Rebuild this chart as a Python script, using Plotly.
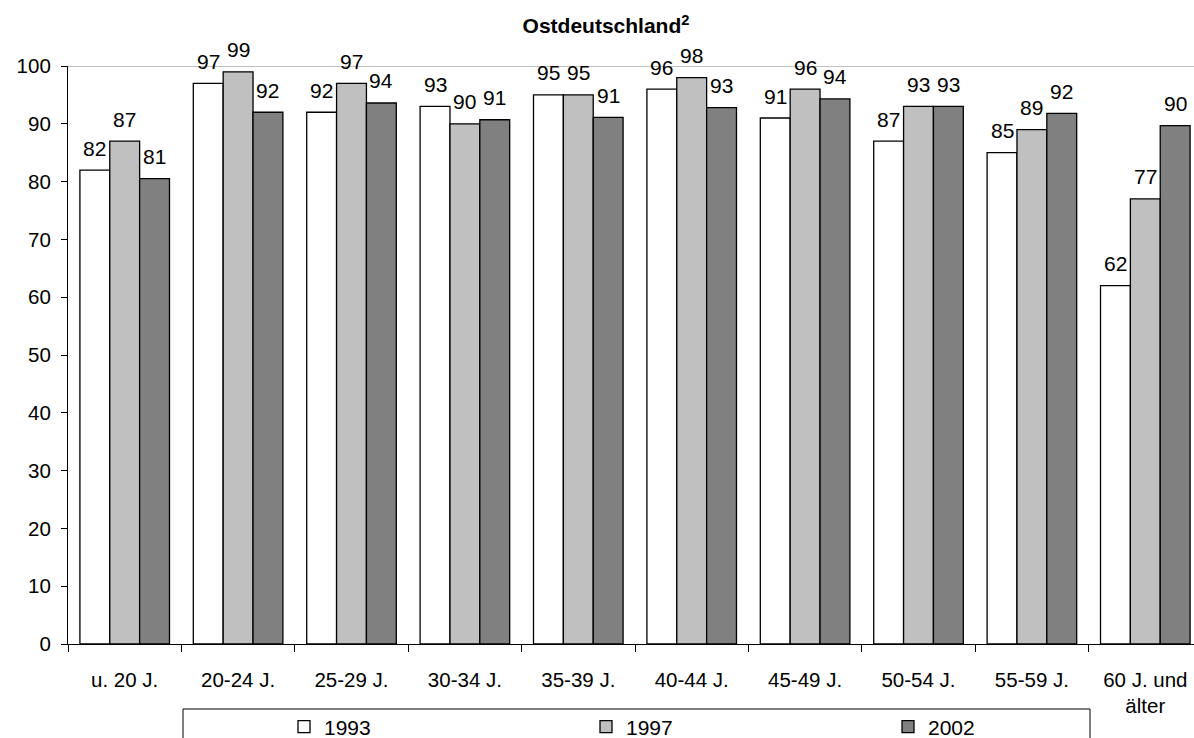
import plotly.graph_objects as go

categories = ["u. 20 J.", "20-24 J.", "25-29 J.", "30-34 J.", "35-39 J.",
              "40-44 J.", "45-49 J.", "50-54 J.", "55-59 J.", "60 J. und<br>älter"]
series_names = ["1993", "1997", "2002"]
v1993 = [82, 97, 92, 93, 95, 96, 91, 87, 85, 62]
v1997 = [87, 99, 97, 90, 95, 98, 96, 93, 89, 77]
v2002 = [80.5, 92.0, 93.6, 90.7, 91.1, 92.8, 94.3, 93.0, 91.8, 89.7]
y_ticks = [0, 10, 20, 30, 40, 50, 60, 70, 80, 90, 100]
title_text = "Ostdeutschland<sup>2</sup>"

colors = ["#FFFFFF", "#C0C0C0", "#808080"]
FONT = "Arial, 'Liberation Sans', sans-serif"
W, H = 1194, 738
L, T, B = 68, 66, 94
plot_w = W - L
plot_h = H - T - B
cat_w = 113.4
bargap = 0.21
bar_w = cat_w * (1 - bargap) / 3

fig = go.Figure()
all_vals = [v1993, v1997, v2002]
for name, vals, col in zip(series_names, all_vals, colors):
    fig.add_trace(go.Bar(
        x=categories, y=vals, name=name,
        marker=dict(color=col, line=dict(color="#000000", width=1.3)),
        hoverinfo="x+y+name",
    ))

annotations = []
for i, vals in enumerate(all_vals):
    for c, v in zip(categories, vals):
        annotations.append(dict(
            x=c, y=v, xref="x", yref="y", text=str(int(v + 0.5)),
            showarrow=False, xshift=(i - 1) * bar_w, yshift=22,
            yanchor="middle", xanchor="center",
            font=dict(family=FONT, size=21, color="#000000"),
        ))

def px_x(p):
    return (p - L) / plot_w

def px_y(p):
    return (H - B - p) / plot_h

fig.update_layout(
    width=W, height=H,
    margin=dict(l=L, r=0, t=T, b=B, pad=0, autoexpand=False),
    paper_bgcolor="#FFFFFF", plot_bgcolor="#FFFFFF",
    barmode="group", bargap=bargap, bargroupgap=0,
    font=dict(family=FONT, size=20, color="#000000"),
    title=dict(text=title_text, x=606 / W, xanchor="center", xref="container",
               y=1 - 26 / H, yanchor="middle",
               font=dict(family=FONT, size=21, color="#000000", weight="bold")),
    showlegend=True,
    legend=dict(orientation="h", x=px_x(284), xanchor="left",
                y=px_y(727), yanchor="middle", entrywidth=257,
                entrywidthmode="pixels", borderwidth=0,
                font=dict(family=FONT, size=21), traceorder="normal",
                bgcolor="rgba(0,0,0,0)"),
    annotations=annotations,
    shapes=[
        dict(type="line", xref="paper", yref="y", x0=0, x1=1, y0=100, y1=100,
             line=dict(color="#808080", width=1.2), layer="below"),
        dict(type="rect", xref="paper", yref="paper",
             x0=px_x(183), x1=px_x(1090), y0=px_y(770), y1=px_y(709),
             line=dict(color="#000000", width=1), fillcolor="rgba(0,0,0,0)"),
    ],
)
fig.update_xaxes(
    type="category", range=[-0.5, -0.5 + plot_w / cat_w],
    showline=True, linecolor="#000000", linewidth=1.2,
    ticks="outside", tickson="boundaries", ticklen=7, tickcolor="#000000",
    showgrid=False, zeroline=False, ticklabelstandoff=17,
    tickfont=dict(family=FONT, size=20.5),
)
fig.update_yaxes(
    range=[0, 100], tickvals=y_ticks,
    showline=True, linecolor="#000000", linewidth=1.2,
    ticks="outside", ticklen=6, tickcolor="#000000",
    showgrid=False, zeroline=False, ticklabelstandoff=6,
    tickfont=dict(family=FONT, size=20.5),
)
fig.write_html("out.html")
